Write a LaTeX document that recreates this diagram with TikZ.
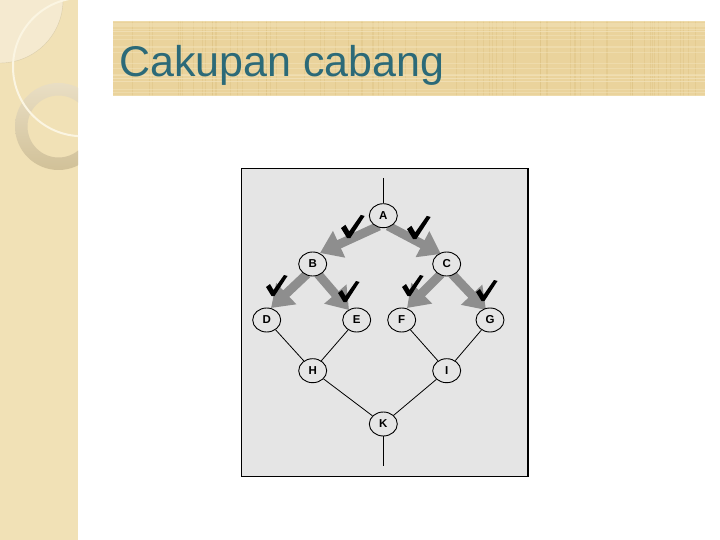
\documentclass[tikz,border=0pt]{standalone}
\usepackage{fontspec}
\setmainfont{Liberation Sans}
\usetikzlibrary{shapes.geometric,arrows.meta}
\definecolor{strip}{HTML}{F1E1B6}
\definecolor{striplight}{HTML}{F5EAD0}
\definecolor{ringc}{HTML}{DCCBA0}
\definecolor{ringlight}{HTML}{E9DEC4}
\definecolor{arcwhite}{HTML}{FBF5E2}
\definecolor{titlebar}{HTML}{EAD39C}
\definecolor{titledark}{HTML}{DCC080}
\definecolor{titlelight}{HTML}{F2E2B8}
\definecolor{titleteal}{HTML}{2C6A78}
\definecolor{boxgray}{HTML}{E5E5E5}
\definecolor{arrowgray}{HTML}{8E8E8E}
\tikzset{
  vtx/.style={ellipse, draw=black, line width=0.9pt, fill=boxgray, minimum width=28, minimum height=24, inner sep=0pt, font=\bfseries\fontsize{11.5}{11.5}\selectfont},
  thin/.style={draw=black, line width=0.8pt},
  fatarrow/.style={draw=arrowgray, line width=9pt, -{Triangle[length=21pt,width=28pt]}},
  chk/.pic={\fill[black] (-10,1) -- (-6,-2) -- (-2.5,4) -- (8,-11) -- (11.5,-10) -- (-1.5,10) -- (-4.5,10) -- cycle;}
}
\begin{document}
\begin{tikzpicture}[x=1pt,y=-1pt]
\useasboundingbox (0,0) rectangle (720,540);
\fill[white] (0,0) rectangle (720,540);
% left decorative strip
\fill[strip] (0,0) rectangle (78,540);
\begin{scope}
  \clip (0,0) rectangle (78,540);
  \fill[striplight] (0,0) -- (63,0) arc[start angle=0,end angle=90,radius=63] -- cycle;
  \draw[ringc!80!black, line width=0.4pt, opacity=0.35] (63,0) arc[start angle=0,end angle=90,radius=63];
  \shade[even odd rule, top color=ringlight, bottom color=ringc!95!black] (58.5,126.5) circle[radius=43.5] (58.5,126.5) circle[radius=31];
  \draw[arcwhite, line width=2pt] (82.2,67) circle[radius=69.2];
\end{scope}
% title bar
\fill[titlebar] (113,21) rectangle (705,96);
\begin{scope}
  \clip (113,21) rectangle (705,96);
  \pgfmathsetseed{7}
  \foreach \i in {1,...,70}{
    \pgfmathsetmacro{\xx}{113+592*rnd}
    \draw[titledark, line width=0.6pt, opacity=0.4] (\xx,21) -- (\xx,96);
  }
  \foreach \i in {1,...,25}{
    \pgfmathsetmacro{\yy}{21+75*rnd}
    \draw[titlelight, line width=0.7pt, opacity=0.55] (113,\yy) -- (705,\yy);
  }
\end{scope}
\node[anchor=base west, inner sep=0pt, text=titleteal, font=\fontsize{43}{43}\selectfont] (title) at (119,77) {Cakupan cabang};
% diagram box
\filldraw[fill=boxgray, draw=black, line width=1.2pt] (241.5,168.5) rectangle (528,476.5);
% arrow end points
\coordinate (ab0) at (379,226);  \coordinate (ab1) at (320,253);
\coordinate (ac0) at (388,226);  \coordinate (ac1) at (441,254);
\coordinate (bd0) at (307,274);  \coordinate (bd1) at (271,308);
\coordinate (be0) at (318,274);  \coordinate (be1) at (349,310);
\coordinate (cf0) at (441,274);  \coordinate (cf1) at (407,308);
\coordinate (cg0) at (452,274);  \coordinate (cg1) at (486,310);
% fat gray arrows
\draw[fatarrow] (ab0) -- (ab1);
\draw[fatarrow] (ac0) -- (ac1);
\draw[fatarrow] (bd0) -- (bd1);
\draw[fatarrow] (be0) -- (be1);
\draw[fatarrow] (cf0) -- (cf1);
\draw[fatarrow] (cg0) -- (cg1);
% nodes
\node[vtx] (A) at (383.3,215.7) {A};
\node[vtx] (B) at (312.7,264) {B};
\node[vtx] (C) at (446.7,264) {C};
\node[vtx] (D) at (266.7,320) {D};
\node[vtx] (E) at (356.7,320) {E};
\node[vtx] (F) at (401.7,320) {F};
\node[vtx] (G) at (490,320) {G};
\node[vtx] (H) at (312.7,370.7) {H};
\node[vtx] (I) at (446.7,370.7) {I};
\node[vtx] (K) at (383.3,424) {K};
\coordinate (in) at (383.3,178);
\coordinate (out) at (383.3,466);
% thin connectors
\draw[thin] (in) -- (A);
\draw[thin] (D) -- (H);
\draw[thin] (E) -- (H);
\draw[thin] (F) -- (I);
\draw[thin] (G) -- (I);
\draw[thin] (H) -- (K);
\draw[thin] (I) -- (K);
\draw[thin] (K) -- (out);
% check marks
\pic[scale=1.1] at (352,227) {chk};
\pic[scale=1.1] at (418,228) {chk};
\pic at (276,286) {chk};
\pic at (348,292) {chk};
\pic at (412,286) {chk};
\pic at (486,291) {chk};
\end{tikzpicture}
\end{document}
